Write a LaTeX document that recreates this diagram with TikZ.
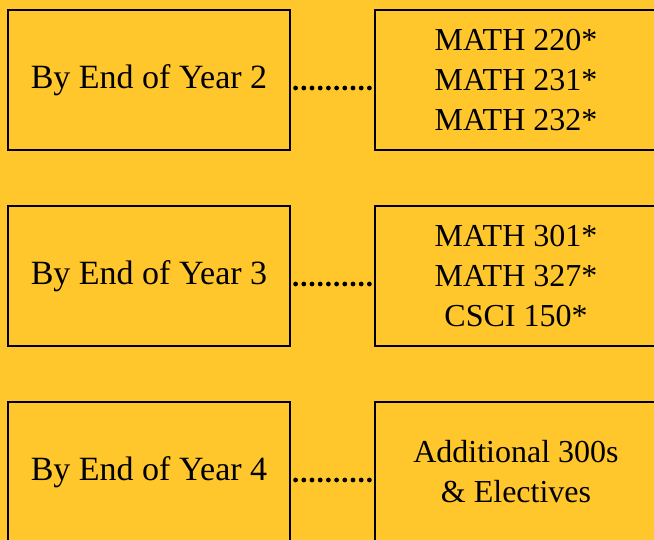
\documentclass[tikz,border=0pt]{standalone}
\usepackage{fontspec}
\setmainfont{Liberation Serif}
\usetikzlibrary{positioning}
\definecolor{gold}{HTML}{FFC72C}

\begin{document}
\begin{tikzpicture}[
  x=1pt, y=-1pt,
  every node/.style={font=\fontsize{32}{40}\selectfont},
  yearbox/.style={draw, line width=1.2pt, fill=gold,
    minimum width=282pt, minimum height=140pt,
    align=center, inner sep=0pt},
  yeartext/.style={font=\fontsize{34}{40}\selectfont},
  dotline/.style={line width=4.8pt, line cap=round,
    dash pattern=on 0pt off 8.2pt},
]

%% page and background
\useasboundingbox (0,0) rectangle (654,540);
\clip (0,0) rectangle (654,540);
\fill[gold] (0,0) rectangle (654,540);

%% ROW 1 -- Year 2
\node[yearbox, yeartext] (year2) at (149,80) {By End of Year 2};
\node[yearbox] (req2) at (516,80) {MATH 220*\\MATH 231*\\MATH 232*};
\draw[dotline] ([shift={(5,8)}]year2.east) -- ([shift={(-4.5,8)}]req2.west);

%% ROW 2 -- Year 3
\node[yearbox, yeartext] (year3) at (149,276) {By End of Year 3};
\node[yearbox] (req3) at (516,276) {MATH 301*\\MATH 327*\\CSCI 150*};
\draw[dotline] ([shift={(5,8)}]year3.east) -- ([shift={(-4.5,8)}]req3.west);

%% ROW 3 -- Year 4
\node[yearbox, yeartext] (year4) at (149,472) {By End of Year 4};
\node[yearbox] (req4) at (516,472) {Additional 300s\\\& Electives};
\draw[dotline] ([shift={(5,8)}]year4.east) -- ([shift={(-4.5,8)}]req4.west);

\end{tikzpicture}
\end{document}
